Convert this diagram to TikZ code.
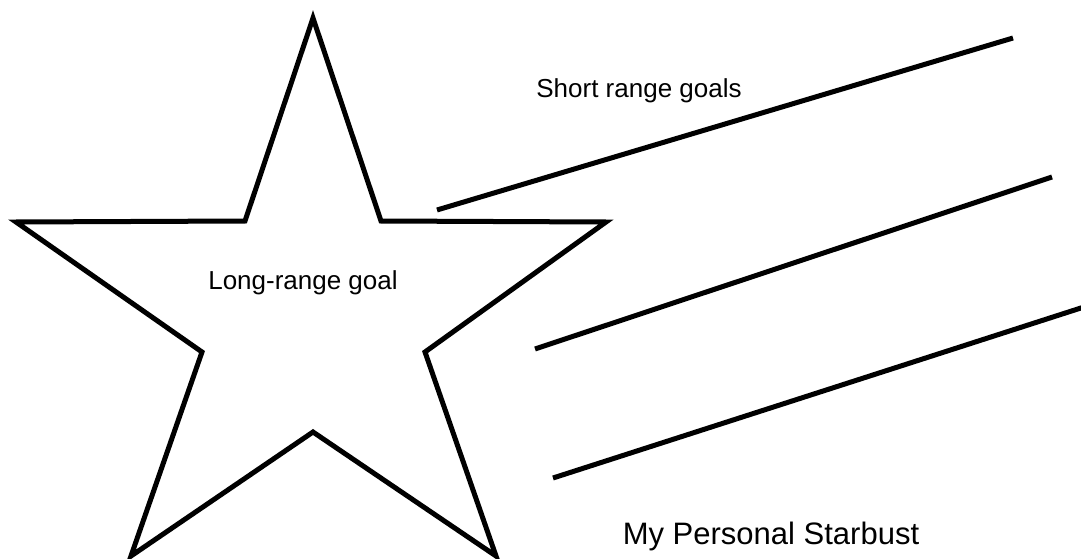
\documentclass[tikz,border=0pt]{standalone}
\usepackage{fontspec}
\setmainfont{Liberation Sans}
\tikzset{
  outline/.style={line width=5pt,line join=miter,black},
  streak/.style={line width=5pt,black},
  label/.style={inner sep=0pt,anchor=base,font=\fontsize{26}{30}\selectfont},
}
\begin{document}
\begin{tikzpicture}[x=1pt,y=-1pt]
\useasboundingbox (0,0) rectangle (1081,559);
% the star
\coordinate (top) at (313,18);
\coordinate (ur) at (381,221);
\coordinate (right) at (606,222);
\coordinate (lr) at (425,352);
\coordinate (br) at (496,556);
\coordinate (bot) at (313,432);
\coordinate (bl) at (131,556);
\coordinate (ll) at (202,352);
\coordinate (left) at (16,222);
\coordinate (ul) at (245,221);
\draw[outline] (top) -- (ur) -- (right) -- (lr) -- (br) -- (bot) -- (bl) -- (ll) -- (left) -- (ul) -- cycle;

% the trails
\coordinate (s1) at (437,210);
\coordinate (e1) at (1013,38);
\coordinate (s2) at (535,349);
\coordinate (e2) at (1052,177);
\coordinate (s3) at (553,478);
\coordinate (e3) at (1084,307);
\draw[streak] (s1) -- (e1);
\draw[streak] (s2) -- (e2);
\draw[streak] (s3) -- (e3);

\node[label] (short) at (639,98) {Short range goals};
\node[label] (long) at (303,289) {Long-range goal};
\node[label,font=\fontsize{31}{36}\selectfont] (title) at (771,544) {My Personal Starbust};
\end{tikzpicture}
\end{document}
